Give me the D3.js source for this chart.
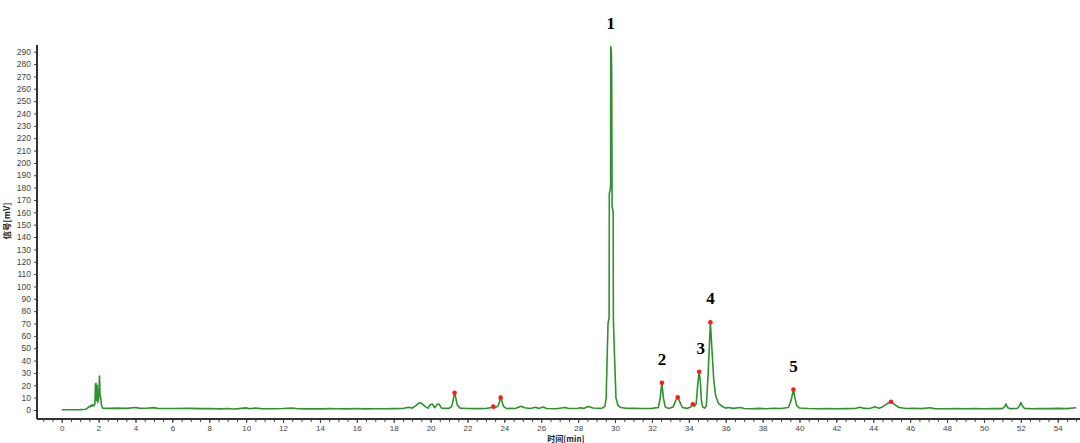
<!DOCTYPE html>
<html><head><meta charset="utf-8">
<script src="https://cdn.jsdelivr.net/npm/d3@7"></script>
<style>
html,body{margin:0;padding:0;background:#fff;}
svg{display:block;}
</style></head>
<body>
<svg id="chart" width="1080" height="443"></svg>
<script>
// ---- data ----
const timeMin = [0.0,0.5,1.0,1.3,1.4,1.5,1.55,1.6,1.65,1.7,1.75,1.8,1.83,1.86,1.88,1.92,1.95,2.0,2.05,2.08,2.12,2.15,2.22,2.5,3.0,3.5,4.0,4.2,4.6,5.0,5.2,6.0,7.0,7.5,8.0,8.6,9.0,9.3,9.6,10.0,10.2,10.5,10.8,11.5,12.0,12.5,12.8,13.2,13.8,14.2,14.5,15.0,15.5,16.0,16.4,17.0,17.5,18.0,18.5,18.8,19.0,19.2,19.4,19.55,19.7,19.85,20.0,20.1,20.22,20.35,20.45,20.6,21.0,21.15,21.25,21.3,21.35,21.45,21.6,22.0,22.5,23.0,23.3,23.4,23.5,23.65,23.75,23.8,23.85,23.95,24.1,24.6,24.9,25.1,25.4,25.7,25.85,26.1,26.3,26.8,27.3,27.5,28.0,28.1,28.3,28.55,28.8,29.1,29.3,29.45,29.52,29.56,29.62,29.68,29.69,29.76,29.77,29.80,29.82,29.84,29.90,29.91,29.98,30.05,30.15,30.3,30.6,31.0,31.5,32.0,32.35,32.45,32.54,32.62,32.72,32.9,33.15,33.3,33.4,33.5,33.65,33.9,34.1,34.22,34.3,34.4,34.48,34.56,34.62,34.68,34.75,34.85,34.95,35.05,35.17,35.25,35.35,35.45,35.6,35.8,36.0,36.15,36.4,36.8,37.0,37.4,37.8,38.2,38.6,39.0,39.4,39.55,39.67,39.75,39.85,40.0,40.5,41.0,41.6,42.0,42.5,43.0,43.3,43.5,43.8,44.1,44.3,44.5,44.8,44.96,45.1,45.4,45.8,46.2,46.6,47.1,47.3,48.0,48.5,49.0,49.5,50.0,50.5,51.0,51.12,51.2,51.28,51.4,51.8,51.92,52.0,52.08,52.2,52.6,53.0,53.5,54.0,54.5,55.0];
const signalMv = [0.2,0.2,0.3,0.6,1.5,3.0,2.5,4.0,3.2,4.2,3.5,5.0,21.0,21.5,8.0,20.0,6.0,9.0,27.5,12.0,10.0,4.0,1.5,1.3,1.5,1.3,2.0,1.5,1.4,1.9,1.3,1.2,1.3,1.1,1.2,0.9,1.2,0.8,1.1,1.7,1.0,1.6,1.1,1.0,1.2,1.6,1.0,0.9,1.0,0.9,1.1,1.0,0.9,1.2,0.9,1.0,1.0,1.1,1.2,2.2,1.5,3.5,6.0,5.0,3.0,1.5,4.5,4.8,1.8,4.5,4.8,1.5,1.3,3.0,10.0,14.0,11.0,4.0,1.5,1.2,1.1,1.2,2.0,2.7,2.0,3.0,7.0,10.0,8.0,3.0,1.3,1.2,3.0,1.8,1.2,2.2,1.2,2.4,1.2,1.0,2.0,1.2,1.4,1.8,1.3,2.8,1.6,1.4,1.5,3,10,35,70,75,175,180,294,290,272,165,160,73,40,10,4,2,1.4,1.3,1.2,1.3,2.0,10.0,22.0,10.0,2.5,1.3,2.5,8.0,10.3,7.0,2.0,1.3,2.5,4.6,3.0,5.0,20.0,31.0,24.0,8.0,2.5,1.5,3.0,30.0,71.0,50.0,25.0,12.0,5.5,3.0,1.5,2.0,1.3,2.0,1.2,1.0,1.3,1.0,1.4,1.2,2.0,8.0,16.5,10.0,3.5,1.6,1.2,1.0,1.2,1.0,1.1,1.2,2.2,1.3,1.2,2.7,1.5,2.5,5.5,6.7,5.0,2.0,1.2,1.4,1.1,1.8,1.1,1.0,1.1,1.0,1.2,1.0,1.2,1.1,2.5,4.9,2.0,1.1,1.2,3.0,6.0,3.5,1.3,1.0,1.2,1.1,1.3,1.1,1.8];

const markerTimes  = [21.3, 23.4, 23.8, 32.54, 33.4, 34.22, 34.56, 35.17, 39.67, 44.96];
const markerValues = [14.0, 2.7, 10.0, 22.0, 10.3, 4.6, 31.0, 71.0, 16.5, 6.7];

const peakLabels = ["1","2","3","4","5"];
const peakLabelTimes  = [29.77, 32.54, 34.65, 35.17, 39.67];
const peakLabelValues = [294, 22, 31, 71, 16.5];

const xTickValues = d3.range(0, 55, 2);
const xMinorTicks = d3.range(-1, 55.01, 0.5);
const yTickValues = d3.range(0, 291, 10);

const xTitle = "时间[min]";
const yTitle = "信号[mV]";

// ---- chart ----
const svg = d3.select("#chart");
const x = d3.scaleLinear().domain([0, 54]).range([61.7, 1057.7]);
const y = d3.scaleLinear().domain([0, 290]).range([410, 51.7]);
const axisY = 419, axisX = 37;

const axisColor = "#333";
const labelFont = "'Liberation Sans', Arial, sans-serif";

// minor x ticks
svg.append("g").attr("transform", `translate(0,${axisY})`)
  .call(d3.axisBottom(x).tickValues(xMinorTicks).tickSize(3).tickFormat(""))
  .call(g => g.select(".domain").remove())
  .call(g => g.selectAll("line").attr("stroke", "#444"));

// major x ticks
svg.append("g").attr("transform", `translate(0,${axisY})`)
  .call(d3.axisBottom(x).tickValues(xTickValues).tickSize(4).tickPadding(2).tickFormat(d3.format("d")))
  .call(g => g.select(".domain").remove())
  .call(g => g.selectAll("line").attr("stroke", "#444"))
  .call(g => g.selectAll("text").attr("font-family", labelFont).attr("font-size", 8).attr("fill", "#444"));

// y axis
svg.append("g").attr("transform", `translate(${axisX},0)`)
  .call(d3.axisLeft(y).tickValues(yTickValues).tickSize(3).tickPadding(3).tickFormat(d3.format("d")))
  .call(g => g.select(".domain").remove())
  .call(g => g.selectAll("line").attr("stroke", "#444"))
  .call(g => g.selectAll("text").attr("font-family", labelFont).attr("font-size", 8.5).attr("fill", "#444"));

// axis lines
svg.append("line").attr("x1", axisX).attr("x2", 1080).attr("y1", axisY).attr("y2", axisY)
  .attr("stroke", axisColor).attr("stroke-width", 2);
svg.append("line").attr("x1", axisX).attr("x2", axisX).attr("y1", 45).attr("y2", axisY)
  .attr("stroke", axisColor).attr("stroke-width", 2);

// titles
svg.append("text").attr("x", 566).attr("y", 441.5).attr("text-anchor", "middle")
  .attr("font-family", "'Noto Sans CJK SC', sans-serif").attr("font-weight", "bold")
  .attr("font-size", 8).attr("fill", "#222").text(xTitle);
svg.append("text").attr("transform", "translate(10,221) rotate(-90)").attr("text-anchor", "middle")
  .attr("font-family", "'Noto Sans CJK SC', sans-serif").attr("font-weight", "bold")
  .attr("font-size", 8.5).attr("fill", "#222").text(yTitle);

// trace
const pts = timeMin.map((t, i) => [t, signalMv[i]]);
svg.append("path").datum(pts)
  .attr("fill", "none").attr("stroke", "#2e932e").attr("stroke-width", 1.6)
  .attr("stroke-linejoin", "round")
  .attr("d", d3.line().x(d => x(d[0])).y(d => y(d[1])));

// markers
svg.append("g").selectAll("circle").data(markerTimes).join("circle")
  .attr("cx", d => x(d)).attr("cy", (d, i) => y(markerValues[i]))
  .attr("r", 2.3).attr("fill", "#ff1a1a");

// peak labels
svg.append("g").selectAll("text").data(peakLabels).join("text")
  .attr("x", (d, i) => x(peakLabelTimes[i]))
  .attr("y", (d, i) => y(peakLabelValues[i]) - 18)
  .attr("text-anchor", "middle")
  .attr("font-family", "'Liberation Serif', 'Times New Roman', serif")
  .attr("font-weight", "bold").attr("font-size", 17).attr("fill", "#000")
  .text(d => d);
</script>
</body></html>
